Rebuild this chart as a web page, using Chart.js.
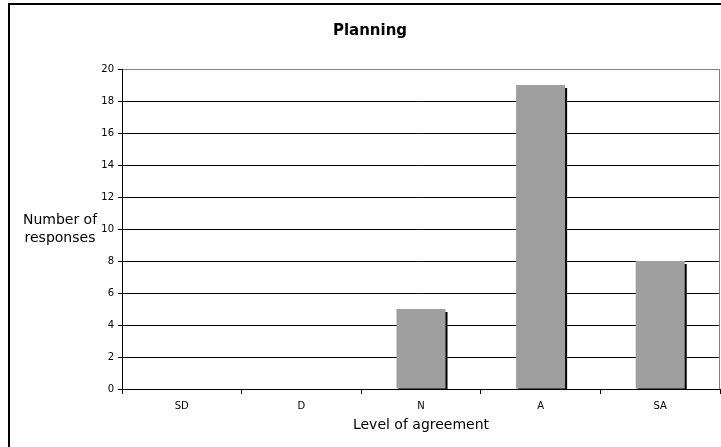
<!DOCTYPE html>
<html>
<head>
<meta charset="utf-8">
<script src="https://cdn.jsdelivr.net/npm/chart.js@4"></script>
<style>
  html, body { margin: 0; padding: 0; background: #fff; }
  #wrap { width: 721px; height: 447px; position: relative; }
</style>
</head>
<body>
<div id="wrap"><canvas id="planningChart"></canvas></div>
<script>
const categories = ['SD', 'D', 'N', 'A', 'SA'];
const responses = [0, 0, 5, 19, 8];
const yTicks = [0, 2, 4, 6, 8, 10, 12, 14, 16, 18, 20];

const FONT = '"DejaVu Sans", Verdana, sans-serif';

// shadow on the right of each bar, like the old spreadsheet style
const barShadow = {
  id: 'barShadow',
  beforeDatasetsDraw(chart) {
    const ctx = chart.ctx;
    ctx.save();
    ctx.shadowColor = '#000';
    ctx.shadowOffsetX = 2;
    ctx.shadowOffsetY = 3;
    ctx.shadowBlur = 0;
  },
  afterDatasetsDraw(chart) {
    chart.ctx.restore();
  }
};

// titles + frame
const decorations = {
  id: 'decorations',
  afterDraw(chart) {
    const ctx = chart.ctx;
    const area = chart.chartArea;
    ctx.save();
    ctx.fillStyle = '#000';
    ctx.textAlign = 'center';
    ctx.textBaseline = 'middle';

    ctx.font = 'bold 15px ' + FONT;
    ctx.fillText('Planning', 370, 31);

    ctx.font = '14px ' + FONT;
    ctx.fillText('Level of agreement', (area.left + area.right) / 2, 425);
    ctx.fillText('Number of', 60, 220);
    ctx.fillText('responses', 60, 238);

    // plot border (top + right), greyish
    ctx.strokeStyle = '#808080';
    ctx.lineWidth = 1;
    ctx.beginPath();
    ctx.moveTo(area.left + 1, area.top + 0.5);
    ctx.lineTo(area.right - 0.5, area.top + 0.5);
    ctx.lineTo(area.right - 0.5, area.bottom);
    ctx.stroke();

    // outer frame (cropped on the right and bottom)
    ctx.strokeStyle = '#000';
    ctx.lineWidth = 2;
    ctx.beginPath();
    ctx.moveTo(9, chart.height);
    ctx.lineTo(9, 4);
    ctx.lineTo(chart.width, 4);
    ctx.stroke();
    ctx.restore();
  }
};

const ctx = document.getElementById('planningChart').getContext('2d');
new Chart(ctx, {
  type: 'bar',
  data: {
    labels: categories,
    datasets: [{
      label: 'Number of responses',
      data: responses,
      backgroundColor: '#9f9f9f',
      borderWidth: 0,
      categoryPercentage: 1,
      barPercentage: 0.41,
      clip: 0
    }]
  },
  options: {
    responsive: true,
    maintainAspectRatio: false,
    animation: false,
    events: [],
    layout: { padding: { top: 69, right: 1, bottom: 0, left: 0 } },
    plugins: {
      legend: { display: false },
      title: { display: false },
      tooltip: { enabled: false }
    },
    scales: {
      x: {
        afterFit(scale) { scale.height = 58; },
        border: { display: true, color: '#000', width: 1 },
        grid: {
          offset: true,
          drawOnChartArea: false,
          drawTicks: true,
          tickLength: 5,
          tickColor: '#000'
        },
        ticks: {
          color: '#000',
          padding: 6,
          font: { family: FONT, size: 10 }
        }
      },
      y: {
        min: 0,
        max: 20,
        afterFit(scale) { scale.width = 122; },
        afterBuildTicks(scale) {
          scale.ticks = yTicks.map(v => ({ value: v }));
        },
        border: { display: true, color: '#000', width: 1 },
        grid: {
          color: ctx => ctx.tick && ctx.tick.value === 20 ? '#808080' : '#000',
          lineWidth: 1,
          drawTicks: true,
          tickLength: 4,
          tickColor: '#000'
        },
        ticks: {
          color: '#000',
          padding: 4,
          font: { family: FONT, size: 10 }
        }
      }
    }
  },
  plugins: [barShadow, decorations]
});
</script>
</body>
</html>
